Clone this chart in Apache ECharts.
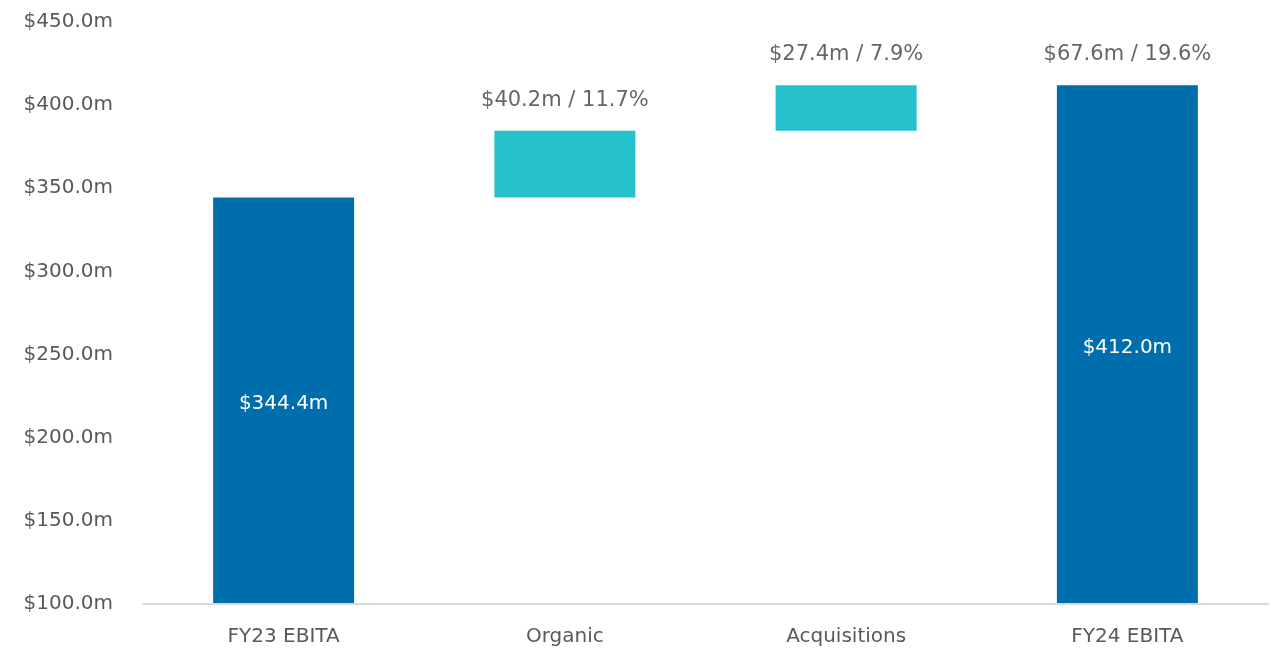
<!DOCTYPE html>
<html>
<head>
<meta charset="utf-8">
<script src="https://cdn.jsdelivr.net/npm/echarts@6/dist/echarts.min.js"></script>
<style>
  html, body { margin: 0; padding: 0; background: #fff; }
  #chart { width: 1271px; height: 648px; }
</style>
</head>
<body>
<div id="chart"></div>
<script>
// chart data
const categories = ['FY23 EBITA', 'Organic', 'Acquisitions', 'FY24 EBITA'];
const barValues = [344.4, 40.2, 27.4, 412.0];   // totals and increments, $m
const isTotal = [true, false, false, true];
const growthAmount = [null, 40.2, 27.4, 67.6];  // $m
const growthPct = [null, 11.7, 7.9, 19.6];      // %
const yTicks = { min: 100, max: 450, step: 50 };

const BLUE = '#006EAD';
const TEAL = '#26C2CC';

// invisible base for the floating bars
const baseValues = [];
let running = 0;
barValues.forEach((v, i) => {
  if (isTotal[i]) {
    baseValues.push(0);
    running = v;
  } else {
    baseValues.push(running);
    running += v;
  }
});
const topValues = baseValues.map((b, i) => b + barValues[i]);

const chart = echarts.init(document.getElementById('chart'));
const fontFamily = '"DejaVu Sans", Verdana, sans-serif';

chart.setOption({
  animation: false,
  grid: { left: 143, right: 3, top: 22, bottom: 44, containLabel: false },
  xAxis: {
    type: 'category',
    data: categories,
    z: 5,
    axisLine: { lineStyle: { color: '#D9D9D9', width: 2 } },
    axisTick: { show: false },
    axisLabel: { color: '#595959', fontSize: 20, fontFamily, margin: 23 }
  },
  yAxis: {
    type: 'value',
    min: yTicks.min,
    max: yTicks.max,
    interval: yTicks.step,
    axisLine: { show: false },
    axisTick: { show: false },
    splitLine: { show: false },
    axisLabel: {
      color: '#595959', fontSize: 20, fontFamily, margin: 30,
      formatter: v => '$' + v.toFixed(1) + 'm'
    }
  },
  series: [
    {
      type: 'bar',
      stack: 'wf',
      barWidth: 141,
      itemStyle: { color: 'transparent' },
      emphasis: { disabled: true },
      data: baseValues
    },
    {
      type: 'bar',
      stack: 'wf',
      barWidth: 141,
      data: barValues.map((v, i) => ({
        value: v,
        itemStyle: { color: isTotal[i] ? BLUE : TEAL },
        label: {
          show: isTotal[i],
          position: 'inside',
          offset: [0, 3],
          color: '#fff',
          fontSize: 20,
          fontFamily,
          formatter: '$' + v.toFixed(1) + 'm'
        }
      }))
    },
    {
      // growth labels above the bars
      type: 'scatter',
      symbolSize: 0,
      silent: true,
      data: topValues.map((t, i) => growthAmount[i] == null ? null : t),
      label: {
        show: true,
        position: 'top',
        distance: 20,
        color: '#3F3F3F',
        fontSize: 21,
        fontFamily,
        formatter: p => '$' + growthAmount[p.dataIndex].toFixed(1) + 'm / ' + growthPct[p.dataIndex].toFixed(1) + '%'
      }
    }
  ]
});
</script>
</body>
</html>
